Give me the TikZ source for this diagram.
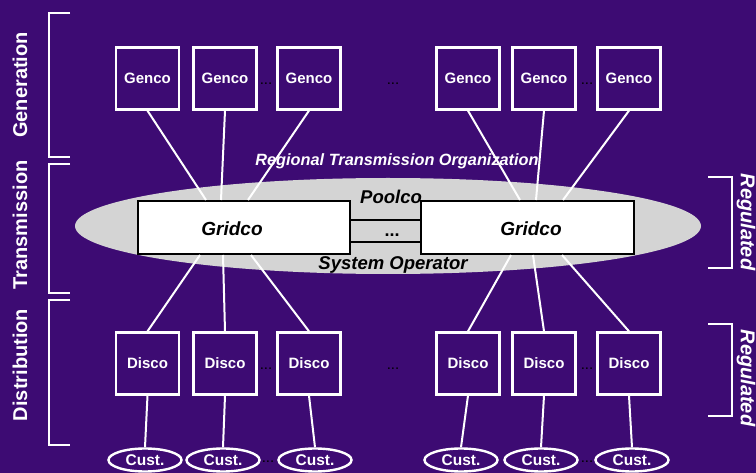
\documentclass[tikz,border=0pt]{standalone}
\usepackage{fontspec}
\setmainfont{Liberation Sans}
\usetikzlibrary{shapes.geometric}
\definecolor{bgpurple}{RGB}{61,11,115}
\definecolor{rtogray}{RGB}{212,212,212}
\begin{document}
\begin{tikzpicture}[x=1pt,y=-1pt,
  unitbox/.style={draw=white, line width=2.4pt, minimum width=63pt, minimum height=62pt,
    inner sep=0pt, text=white, font=\fontsize{15}{18}\selectfont\bfseries},
  custnode/.style={ellipse, draw=white, line width=2.4pt, minimum width=73pt, minimum height=23pt,
    inner sep=0pt, text=white, font=\fontsize{15.5}{18}\selectfont\bfseries},
  gridbox/.style={draw=black, fill=white, line width=2pt, minimum height=53pt, inner sep=0pt},
  gridlabel/.style={inner sep=0pt, font=\fontsize{19}{22}\selectfont\bfseries\itshape},
  wire/.style={white, line width=2pt},
  link/.style={black, line width=2pt},
  bracket/.style={white, line width=2pt},
  gap/.style={inner sep=0pt, text=black, font=\fontsize{15}{16}\selectfont},
  sidelabel/.style={inner sep=0pt, text=white, font=\fontsize{20}{24}\selectfont\bfseries},
  tag/.style={inner sep=0pt, font=\fontsize{18.5}{22}\selectfont\bfseries\itshape}
]
% background
\fill[bgpurple] (0,0) rectangle (756,473);
\useasboundingbox (0,0) rectangle (756,473);

% regional transmission organization
\node[ellipse, fill=rtogray, minimum width=626pt, minimum height=96pt, inner sep=0pt] (rto) at (388,226) {};
\node[inner sep=0pt, text=white, font=\fontsize{16.3}{18}\selectfont\bfseries\itshape] (rtolabel) at (397,161) {Regional Transmission Organization};

% generation companies
\foreach \n/\x in {1/147.5,2/225,3/309,4/468,5/544,6/629}
  \node[unitbox] (g\n) at (\x,78.5) {Genco};
% distribution companies
\foreach \n/\x in {1/147.5,2/225,3/309,4/468,5/544,6/629}
  \node[unitbox] (d\n) at (\x,363.5) {Disco};
% customers
\foreach \n/\x in {1/145,2/223,3/315,4/461,5/541,6/632}
  \node[custnode] (c\n) at (\x,460) {Cust.};

% grid companies
\node[gridbox, minimum width=212pt] (gl) at (243.5,227.5) {};
\node[gridbox, minimum width=213pt] (gr) at (527.5,227.5) {};

% generation to grid
\draw[wire] (g1.south) -- ([xshift=69.5pt]gl.north west);
\draw[wire] (g2.south) -- ([xshift=84.5pt]gl.north west);
\draw[wire] (g3.south) -- ([xshift=111.5pt]gl.north west);
\draw[wire] (g4.south) -- ([xshift=100pt]gr.north west);
\draw[wire] (g5.south) -- ([xshift=116pt]gr.north west);
\draw[wire] (g6.south) -- ([xshift=143pt]gr.north west);

% grid to distribution
\draw[wire] ([xshift=63.5pt]gl.south west) -- (d1.north);
\draw[wire] ([xshift=86.5pt]gl.south west) -- (d2.north);
\draw[wire] ([xshift=114.5pt]gl.south west) -- (d3.north);
\draw[wire] ([xshift=91pt]gr.south west) -- (d4.north);
\draw[wire] ([xshift=113pt]gr.south west) -- (d5.north);
\draw[wire] ([xshift=142pt]gr.south west) -- (d6.north);

% distribution to customers
\foreach \n in {1,...,6}
  \draw[wire] (d\n.south) -- (c\n.north);

% ties between the grid companies
\draw[link] ([yshift=7.5pt]gl.east) -- ([yshift=7.5pt]gr.west);
\draw[link] ([yshift=-14.5pt]gl.east) -- ([yshift=-14.5pt]gr.west);
\node[gridlabel] (gllabel) at (232,229) {Gridco};
\node[gridlabel] (grlabel) at (531,229) {Gridco};
\node[inner sep=0pt, font=\fontsize{18}{20}\selectfont\bfseries] (tiedots) at (392,235) {...};
\node[tag] (poolco) at (391,197) {Poolco};
\node[tag] (sysop) at (393,265) {System Operator};

% gaps in the rows
\node[gap] (gd1) at (266,84) {...};
\node[gap] (gd2) at (393,84) {...};
\node[gap] (gd3) at (587,84) {...};
\node[gap] (dd1) at (266,369) {...};
\node[gap] (dd2) at (393,369) {...};
\node[gap] (dd3) at (587,369) {...};
\node[gap] (cd1) at (268,462) {...};
\node[gap] (cd2) at (587,462) {...};

% sector brackets
\draw[bracket] (70,13) -- (49,13) -- (49,157) -- (70,157);
\draw[bracket] (70,164) -- (49,164) -- (49,293) -- (70,293);
\draw[bracket] (70,300) -- (49,300) -- (49,445) -- (70,445);
\node[sidelabel, rotate=90] (lgen) at (20,85) {Generation};
\node[sidelabel, rotate=90] (ltrans) at (20,225) {Transmission};
\node[sidelabel, rotate=90] (ldist) at (20,365) {Distribution};

% regulated brackets
\draw[bracket] (708,177) -- (732,177) -- (732,268) -- (708,268);
\draw[bracket] (708,324) -- (732,324) -- (732,416) -- (708,416);
\node[sidelabel, font=\fontsize{20}{24}\selectfont\bfseries\itshape, rotate=-90] (reg1) at (746,222) {Regulated};
\node[sidelabel, font=\fontsize{20}{24}\selectfont\bfseries\itshape, rotate=-90] (reg2) at (746,378) {Regulated};
\end{tikzpicture}
\end{document}
